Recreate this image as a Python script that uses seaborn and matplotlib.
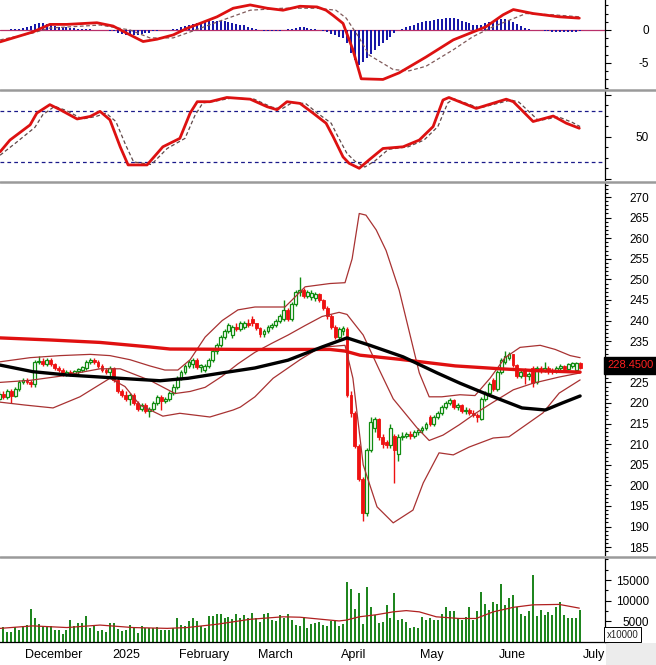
import numpy as np
import matplotlib
matplotlib.use("Agg")
import matplotlib.pyplot as plt
import matplotlib.transforms as mtransforms
from matplotlib.lines import Line2D
from matplotlib.patches import Rectangle
from matplotlib.ticker import MultipleLocator, FixedLocator, FuncFormatter
import seaborn as sns

sns.set_style("white")
plt.rcParams['font.family'] = ['Liberation Sans', 'DejaVu Sans']
plt.rcParams['axes.unicode_minus'] = False

# ==============================
# DAILY PRICE DATA (trading days, late Nov 2024 .. end of June 2025)
# ==============================
open_px = [
    221.0, 222.3, 221.5, 223.0, 221.8, 223.5, 225.0, 225.5, 225.0, 224.5,
    230.0, 230.3, 229.5, 230.5, 229.5, 228.5, 228.0, 227.0, 227.5, 227.0,
    227.8, 228.0, 228.5, 230.0, 230.5, 230.0, 229.0, 228.0, 227.5, 228.5,
    225.5, 223.0, 222.0, 221.0, 222.0, 220.0, 218.5, 219.5, 218.0, 218.5,
    220.0, 221.5, 220.5, 221.0, 222.5, 224.0, 226.0, 227.5, 229.0, 229.5,
    230.5, 228.8, 228.0, 229.0, 230.5, 232.5, 234.0, 236.0, 237.5, 236.5,
    238.5, 238.0, 238.5, 239.5, 240.3, 239.3, 238.3, 236.8, 237.5, 238.5,
    239.0, 240.0, 240.5, 242.5, 240.5, 244.0, 247.0, 247.5, 246.0, 245.8,
    245.5, 246.5, 245.0, 243.0, 241.0, 238.5, 236.0, 237.5, 238.0, 222.0,
    217.5, 209.5, 201.5, 193.3, 208.5, 214.0, 216.0, 211.8, 210.5, 209.8,
    212.0, 207.5, 211.8, 212.0, 212.5, 212.0, 213.0, 213.5, 214.0, 216.5,
    215.0, 216.5, 217.5, 219.0, 220.0, 220.8, 219.0, 219.5, 218.0, 218.3,
    217.5, 217.0, 216.2, 221.0, 222.5, 225.5, 223.5, 227.5, 230.0, 231.0,
    231.8, 229.2, 226.5, 228.0, 226.5, 228.5, 225.0, 228.5, 228.0, 228.5,
    228.0, 227.8, 228.5, 229.0, 228.3, 229.0, 228.0, 229.7,
]
high_px = [
    223.0, 223.0, 223.5, 223.5, 224.0, 225.5, 226.0, 226.0, 225.5, 230.5,
    231.5, 230.8, 231.0, 230.8, 229.8, 229.0, 228.5, 228.0, 228.0, 228.0,
    228.5, 229.0, 230.5, 231.0, 231.0, 230.5, 229.5, 228.5, 229.0, 228.8,
    226.0, 223.5, 223.0, 222.5, 222.5, 220.5, 220.0, 220.0, 219.0, 220.5,
    222.0, 222.0, 221.5, 223.0, 224.5, 226.5, 228.0, 229.5, 230.5, 231.0,
    230.8, 229.5, 229.5, 231.0, 233.0, 234.5, 236.5, 238.0, 239.5, 239.0,
    239.5, 239.8, 240.0, 240.5, 241.0, 239.5, 238.5, 238.0, 239.0, 239.5,
    240.5, 241.5, 245.0, 243.0, 244.5, 247.5, 250.5, 248.0, 247.5, 247.5,
    247.0, 246.8, 245.3, 243.5, 241.5, 239.0, 238.5, 238.8, 238.5, 223.0,
    218.0, 210.0, 202.0, 209.0, 216.5, 216.5, 216.3, 212.5, 211.0, 215.0,
    212.5, 212.5, 213.0, 213.0, 213.2, 213.5, 214.0, 214.5, 215.5, 217.0,
    217.0, 218.0, 219.5, 220.5, 221.3, 221.0, 220.0, 219.8, 219.0, 218.8,
    218.3, 217.5, 221.5, 223.0, 225.0, 226.0, 228.0, 231.0, 232.5, 232.3,
    232.0, 229.5, 228.0, 228.5, 227.5, 229.0, 229.0, 229.0, 230.0, 229.0,
    228.5, 229.0, 229.5, 229.3, 229.8, 230.0, 229.9, 230.0,
]
low_px = [
    220.5, 221.0, 221.0, 220.0, 221.5, 223.0, 224.5, 224.5, 224.0, 224.0,
    229.5, 229.0, 229.0, 229.0, 228.0, 227.5, 226.5, 226.5, 226.5, 226.5,
    227.0, 227.5, 228.0, 229.5, 229.5, 228.5, 227.5, 227.0, 226.5, 225.0,
    222.5, 221.5, 220.5, 219.5, 219.5, 218.0, 218.0, 217.5, 216.5, 218.0,
    219.5, 218.3, 220.0, 220.5, 222.0, 223.5, 225.5, 227.0, 228.5, 228.5,
    228.3, 227.5, 227.5, 228.5, 230.0, 232.0, 233.5, 235.5, 237.0, 235.8,
    237.5, 237.5, 238.0, 238.5, 238.8, 237.8, 236.0, 236.0, 237.0, 238.0,
    238.5, 239.5, 240.0, 239.8, 240.0, 243.5, 246.0, 245.5, 245.5, 245.0,
    244.8, 244.5, 242.5, 240.5, 238.0, 235.5, 235.3, 236.5, 221.5, 216.5,
    209.0, 201.0, 191.3, 192.5, 208.0, 213.0, 211.0, 209.0, 209.0, 209.0,
    200.6, 206.0, 211.0, 211.5, 211.3, 211.5, 212.3, 212.8, 213.5, 214.5,
    214.5, 216.0, 217.0, 218.5, 219.5, 218.5, 218.3, 217.5, 217.3, 217.0,
    216.5, 215.5, 215.8, 220.5, 222.0, 223.0, 223.0, 227.0, 229.5, 230.5,
    228.8, 226.0, 226.0, 224.5, 225.5, 223.8, 224.5, 227.3, 227.5, 227.0,
    227.0, 227.3, 227.8, 227.8, 228.0, 228.5, 227.8, 228.2,
]
close_px = [
    222.3, 221.5, 223.0, 221.8, 223.5, 225.0, 225.5, 225.0, 224.5, 230.0,
    230.3, 229.5, 230.5, 229.5, 228.5, 228.0, 227.0, 227.5, 227.0, 227.8,
    228.3, 228.8, 230.0, 230.5, 230.0, 229.0, 228.0, 227.5, 228.5, 225.5,
    223.0, 222.0, 221.0, 222.0, 220.0, 218.5, 219.5, 218.0, 218.5, 220.0,
    221.5, 220.5, 221.0, 222.5, 224.0, 226.0, 227.5, 229.0, 230.0, 230.5,
    228.8, 229.3, 229.0, 230.5, 232.5, 234.0, 236.0, 237.5, 239.0, 238.5,
    238.0, 239.3, 239.5, 239.0, 239.3, 238.3, 236.8, 237.5, 238.5, 239.0,
    240.0, 241.0, 242.5, 240.5, 244.0, 247.0, 247.5, 246.0, 247.0, 246.8,
    246.5, 245.0, 243.0, 241.0, 238.5, 236.0, 238.0, 238.2, 222.0, 217.5,
    209.5, 201.5, 193.3, 208.5, 215.5, 216.0, 211.8, 210.0, 209.8, 214.0,
    208.5, 211.8, 212.0, 212.5, 212.0, 213.0, 213.5, 214.0, 215.0, 215.0,
    216.5, 217.5, 219.0, 220.0, 220.8, 219.0, 219.5, 218.0, 218.3, 217.5,
    217.0, 216.5, 221.0, 222.5, 224.5, 223.5, 227.5, 230.5, 231.5, 231.8,
    229.2, 226.5, 227.5, 226.5, 227.0, 224.8, 228.5, 228.0, 228.5, 228.0,
    227.8, 228.5, 229.0, 228.3, 229.5, 229.7, 229.7, 228.45,
]
volume = [
    2900, 3700, 2500, 2500, 3700, 2900, 3900, 4100, 7900, 5700,
    4300, 3900, 3900, 3900, 3000, 2900, 1900, 3000, 5300, 3900,
    4600, 4600, 6200, 3500, 3900, 2600, 2900, 2500, 4600, 4600,
    3200, 2600, 2900, 4100, 3500, 2200, 3900, 3500, 3500, 3500,
    3700, 3000, 3000, 3000, 3500, 5700, 4100, 3900, 5100, 5700,
    5100, 3900, 3500, 6200, 6200, 6800, 6800, 5700, 6100, 5500,
    6800, 5700, 6500, 5700, 7000, 5700, 4800, 6700, 7000, 5300,
    5100, 6500, 5700, 6700, 5300, 4100, 3900, 6100, 3500, 4300,
    4600, 4800, 4100, 3900, 5100, 5100, 3900, 4300, 14600, 12800,
    7900, 11800, 4400, 13400, 8400, 6500, 4600, 4800, 9000, 5700,
    11900, 5300, 5500, 4800, 3500, 3700, 3500, 6100, 5300, 5700,
    5300, 5300, 6800, 8400, 7600, 7600, 5700, 5300, 6100, 8400,
    5300, 7600, 12200, 9100, 7700, 9800, 9300, 14000, 9000, 10600,
    11400, 8400, 6800, 6200, 7600, 16200, 6200, 7700, 6500, 7300,
    6500, 8400, 9800, 6500, 5700, 5900, 5900, 7700,
]
macd_hist = [
    0.0, 0.0, 0.05, 0.1, 0.15, 0.2,
    0.3, 0.4, 0.6, 0.9, 1.0, 1.0, 0.9, 0.8, 0.6, 0.5, 0.4, 0.4, 0.3, 0.3, 0.2, 0.2, 0.15, 0.1, 0.05,
    0.0, 0.0, -0.05, -0.1,
    -0.2, -0.4, -0.6, -0.7, -0.75, -0.75, -0.7, -0.6, -0.5, -0.4, -0.2, -0.1,
    0.0, 0.0, 0.05, 0.1, 0.2,
    0.4, 0.6, 0.8, 0.9, 1.0, 1.1, 1.2, 1.3, 1.4, 1.4, 1.4, 1.3, 1.2, 1.0, 0.9, 0.8, 0.7, 0.5, 0.3, 0.2,
    0.0, -0.1, -0.2, -0.2, -0.15, -0.1, 0.0, 0.1, 0.2,
    0.3, 0.4, 0.4, 0.3, 0.2, 0.1,
    0.0, -0.1,
    -0.3, -0.6, -0.8, -1.0, -1.2, -2.0, -3.5, -4.5, -5.3, -4.8, -4.3, -3.6, -3.0, -2.5, -2.0, -1.5, -1.0, -0.5,
    0.0,
    0.2, 0.4, 0.6, 0.8, 1.0, 1.2, 1.3, 1.4, 1.5, 1.6, 1.7, 1.75, 1.8, 1.75, 1.6, 1.4, 1.2, 1.0, 0.8, 0.7,
    0.8, 1.0, 1.2, 1.4, 1.5, 1.6, 1.6, 1.5, 1.2, 0.9, 0.6, 0.35, 0.15,
    0.05, 0.0, 0.0,
    -0.1, -0.2, -0.25, -0.3, -0.3, -0.3, -0.3, -0.3, -0.25, -0.2,
]

# ==============================
# INDICATOR LINES (day index, value)
# ==============================
ma_long_day = [0.2, 12.8, 25.5, 38.1, 43.2, 63.5, 83.7, 87.5, 91.3, 101.4, 115.4, 126.8, 136.9, 147.0]
ma_long_val = [235.8, 235.3, 234.7, 233.6, 233.1, 233.0, 233.0, 232.6, 231.6, 230.6, 229.0, 228.3, 227.8, 227.5]

ma_mid_day = [0.2, 8.5, 17.1, 25.5, 33.8, 40.7, 47.8, 56.4, 64.7, 73.1, 81.7, 88.0, 93.8, 102.2,
              110.8, 116.6, 123.7, 132.3, 138.2, 142.5, 147.0]
ma_mid_val = [229.2, 227.6, 226.8, 226.3, 225.8, 225.4, 226.0, 227.3, 228.5, 230.4, 233.6, 235.8, 234.0, 231.2,
              227.3, 224.8, 222.0, 218.8, 218.3, 220.0, 221.7]

bb_up_day = [0.2, 7.8, 15.4, 23.0, 28.0, 33.1, 38.1, 41.9, 45.2, 48.3, 52.1, 56.4, 60.4, 64.7, 72.3,
             74.1, 77.4, 83.7, 87.5, 89.3, 91.1, 92.8, 95.4, 97.9, 101.2, 104.7, 106.3, 108.8, 112.0,
             116.6, 120.4, 124.2, 128.0, 131.8, 136.9, 140.7, 144.5, 147.0]
bb_up_val = [230.0, 231.0, 231.5, 231.8, 231.5, 230.5, 229.0, 228.0, 228.0, 230.5, 236.0, 240.0, 242.6, 243.3, 243.3,
             245.0, 248.2, 249.0, 249.2, 255.0, 266.0, 265.6, 262.0, 257.0, 247.4, 233.6, 227.3, 221.5, 221.5,
             222.0, 221.8, 226.0, 231.0, 233.5, 234.0, 233.0, 231.5, 231.0]

bb_mid_day = [0.2, 7.8, 15.4, 25.5, 30.6, 38.1, 44.5, 48.3, 52.1, 56.4, 60.4, 64.7, 69.0, 73.1, 77.4,
              81.7, 86.0, 88.0, 92.1, 96.1, 99.7, 105.7, 108.8, 112.3, 116.4, 120.7, 125.0, 130.1,
              135.1, 141.7, 147.0]
bb_mid_val = [225.0, 225.5, 226.5, 228.3, 228.3, 225.5, 222.3, 222.8, 223.8, 226.5, 229.5, 232.3, 234.5, 236.5, 238.8,
              241.0, 242.0, 241.5, 236.5, 228.2, 221.0, 214.0, 210.9, 212.2, 214.7, 217.6, 220.2, 223.2,
              224.8, 226.3, 227.3]

bb_lo_day = [0.2, 6.5, 13.6, 20.4, 28.0, 31.8, 35.6, 41.4, 45.7, 53.3, 59.2, 61.0, 64.7, 69.3, 76.1,
             81.2, 87.5, 89.5, 92.1, 95.6, 99.7, 104.7, 107.3, 111.3, 114.9, 118.9, 125.0, 129.0,
             137.6, 141.7, 147.0]
bb_lo_val = [220.2, 219.5, 218.8, 221.5, 226.0, 224.0, 219.5, 216.8, 217.5, 216.6, 218.3, 219.0, 221.5, 226.0, 230.5,
             233.5, 234.0, 226.0, 205.0, 194.8, 190.9, 194.0, 200.6, 207.9, 207.4, 209.3, 211.5, 211.8,
             217.6, 222.4, 225.6]

macd_day = [0.2, 8.5, 12.8, 17.1, 24.7, 28.8, 32.3, 36.4, 39.9, 44.0, 47.5, 50.8, 55.1, 59.2, 63.5, 67.8,
            71.8, 76.1, 80.4, 82.7, 84.5, 87.0, 89.5, 91.6, 97.1, 101.2, 108.0, 114.9, 119.9, 123.2,
            127.5, 130.1, 135.1, 141.7, 146.8]
macd_val = [-1.8, -0.3, 0.85, 0.85, 1.1, 0.6, -0.5, -1.75, -1.4, -0.75, 0.25, 1.0, 2.0, 3.3, 3.8, 3.3,
            3.0, 3.6, 3.5, 3.0, 2.2, 1.0, -3.0, -7.4, -7.5, -6.5, -4.1, -1.5, -0.3, 0.5,
            2.3, 3.1, 2.5, 2.0, 1.8]
signal_day = [0.2, 8.5, 12.8, 25.5, 33.1, 38.1, 44.0, 48.3, 55.1, 63.5, 71.8, 80.4, 85.2, 87.8, 91.1,
              93.6, 99.7, 103.7, 108.0, 114.9, 119.9, 125.0, 133.3, 140.2, 146.8]
signal_val = [-1.5, -0.45, 0.3, 0.75, 0.0, -1.2, -1.2, -0.3, 1.2, 3.0, 3.3, 3.3, 3.0, 1.8, -1.2,
              -3.8, -6.0, -6.2, -5.5, -3.0, -1.0, 0.5, 2.5, 2.3, 2.0]

stoch_k_day = [0.2, 2.7, 7.8, 9.5, 12.8, 15.4, 19.7, 23.0, 25.5, 28.0, 30.6, 32.6, 37.4, 41.4, 45.7,
               48.3, 50.1, 53.3, 57.6, 63.5, 67.8, 70.3, 72.8, 76.1, 79.4, 82.7, 84.5, 87.0, 88.5,
               91.1, 93.6, 97.1, 102.2, 106.3, 109.8, 112.3, 113.8, 120.7, 128.3, 130.1, 135.1,
               140.2, 143.5, 146.8]
stoch_k_val = [32, 46, 64, 78, 88, 82, 71, 74, 80, 70, 38, 16.5, 16.5, 38, 48,
               78, 91.5, 91.5, 96.5, 94.5, 85.5, 82, 91.5, 89.5, 78, 66, 50, 26, 18.5,
               12.5, 22.5, 36, 38, 46, 62, 93.5, 96.5, 83.5, 94.5, 91.5, 68,
               74.5, 66, 60]
stoch_d_day = [0.2, 4.0, 9.0, 11.0, 14.0, 17.0, 21.0, 24.5, 27.0, 29.5, 32.0, 34.0, 38.5, 42.5, 47.0,
               49.5, 51.5, 54.5, 59.0, 64.5, 69.0, 71.5, 74.0, 77.5, 80.5, 84.0, 85.5, 88.0, 90.0,
               92.5, 95.0, 98.5, 103.5, 107.5, 111.0, 113.5, 115.0, 121.5, 129.5, 131.5, 136.5,
               141.5, 145.0, 147.0]
stoch_d_val = [28, 42, 61, 76, 86, 81, 71, 74, 78, 68, 40, 20, 17, 36, 48,
               75, 90, 92, 96, 94.5, 85, 83, 90, 89.5, 78, 66, 52, 30, 21,
               14, 21, 35, 38, 46, 62, 90, 95, 84, 93.5, 91, 69,
               73.5, 67, 62]

vol_ma_day = [0.2, 8.5, 17.1, 25.5, 33.8, 42.5, 47.5, 55.1, 63.5, 71.8, 76.1, 83.7, 86.0, 87.8,
              91.1, 95.4, 99.7, 103.0, 106.3, 110.6, 116.4, 120.7, 125.0, 130.1, 135.1, 141.7, 146.8]
vol_ma_val = [3300, 3900, 3500, 4100, 3500, 3300, 3500, 4300, 5500, 6100, 6000, 5300, 5100, 5300,
              6100, 6600, 7300, 7600, 7300, 6100, 5700, 5700, 7300, 8400, 9000, 9100, 8200]

month_names = ["December", "2025", "February", "March", "April", "May", "June", "July"]
month_start_day = [6, 28, 45, 65, 86, 106, 126, 147.3]
week_tick_day = [1, 11, 16, 21, 26, 33, 40, 50, 55, 60, 70, 75, 80, 90, 95, 100,
                 111, 116, 121, 131, 136, 141, 146]

# ==============================
# FIGURE LAYOUT
# ==============================
GREEN = "#118c11"
RED = "#ee1111"
BAND = "#a83232"

W, H = 656, 665
fig = plt.figure(figsize=(W / 100, H / 100), dpi=100)


def panel(top, bottom):
    return fig.add_axes([0, 1 - bottom / H, 605 / W, (bottom - top) / H])


ax_macd = panel(0, 88)
ax_stoch = panel(91, 180)
ax_price = panel(183, 555)
ax_vol = panel(558, 642)
axes = [ax_macd, ax_stoch, ax_price, ax_vol]

days = np.arange(len(close_px))
o = np.array(open_px)
h = np.array(high_px)
l = np.array(low_px)
c = np.array(close_px)
up = c >= o

# ---- price panel: candles, bands, moving averages
ax_price.vlines(days, l, h, colors=np.where(up, GREEN, RED), lw=1.0, zorder=2)
body_lo = np.minimum(o, c)
body_h = np.maximum(np.abs(c - o), 0.25)
ax_price.bar(days[up], body_h[up], bottom=body_lo[up], width=0.72,
             facecolor="white", edgecolor=GREEN, lw=0.9, zorder=3)
ax_price.bar(days[~up], body_h[~up], bottom=body_lo[~up], width=0.72,
             facecolor=RED, edgecolor=RED, lw=0.6, zorder=3)

for d, v in [(bb_up_day, bb_up_val), (bb_mid_day, bb_mid_val), (bb_lo_day, bb_lo_val)]:
    sns.lineplot(x=d, y=v, ax=ax_price, color=BAND, lw=0.9, sort=False, estimator=None, zorder=4)
sns.lineplot(x=ma_long_day, y=ma_long_val, ax=ax_price, color="#e01010", lw=2.4,
             sort=False, estimator=None, zorder=5)
sns.lineplot(x=ma_mid_day, y=ma_mid_val, ax=ax_price, color="black", lw=2.4,
             sort=False, estimator=None, zorder=5)
ax_price.set_ylim(183.1, 273.4)

# ---- MACD panel
ax_macd.axhline(0, color="#b8306a", lw=0.9, zorder=1)
ax_macd.vlines(days, 0, macd_hist, colors="#1818a8", lw=1.44, antialiased=False, zorder=2)
sns.lineplot(x=signal_day, y=signal_val, ax=ax_macd, color="#805a5a", lw=0.9,
             linestyle=(0, (3, 2)), sort=False, estimator=None, zorder=3)
sns.lineplot(x=macd_day, y=macd_val, ax=ax_macd, color="#dd1111", lw=2.0,
             sort=False, estimator=None, zorder=4)
ax_macd.set_ylim(-8.8, 4.55)

# ---- Stochastic panel
for lvl in (80, 20):
    ax_stoch.axhline(lvl, color="#1a1a8a", lw=0.9, ls=(0, (3, 2.5)), zorder=1)
sns.lineplot(x=stoch_d_day, y=stoch_d_val, ax=ax_stoch, color="#604848", lw=0.9,
             linestyle=(0, (3, 2)), sort=False, estimator=None, zorder=2)
sns.lineplot(x=stoch_k_day, y=stoch_k_val, ax=ax_stoch, color="#dd1111", lw=2.0,
             sort=False, estimator=None, zorder=3)
ax_stoch.set_ylim(-1.4, 104.2)

# ---- Volume panel
ax_vol.vlines(days, 0, volume, colors="#1f861f", lw=1.44, antialiased=False, zorder=2)
sns.lineplot(x=vol_ma_day, y=vol_ma_val, ax=ax_vol, color="#b02020", lw=0.9,
             sort=False, estimator=None, zorder=3)
ax_vol.set_ylim(0, 20340)

# ==============================
# AXES STYLING
# ==============================
last_close = close_px[-1]
ax_price.yaxis.set_major_locator(MultipleLocator(5))
ax_price.yaxis.set_minor_locator(MultipleLocator(1))
# the price tag hides the scale label right under it
ax_price.yaxis.set_major_formatter(FuncFormatter(
    lambda v, pos: "" if abs(v - last_close) < 2.5 else f"{v:.0f}"))
ax_macd.yaxis.set_major_locator(FixedLocator([-5, 0]))
ax_macd.yaxis.set_minor_locator(MultipleLocator(1.25))
ax_stoch.set_yticks([0, 50, 100], ["", "50", ""])
ax_stoch.yaxis.set_minor_locator(MultipleLocator(12.5))
ax_vol.yaxis.set_major_locator(FixedLocator([5000, 10000, 15000]))
ax_vol.yaxis.set_minor_locator(MultipleLocator(2500))

for ax in axes:
    ax.set_xlim(0.18, 153.3)
    ax.set_xlabel("")
    ax.set_ylabel("")
    ax.set_facecolor("white")
    ax.yaxis.tick_right()
    ax.tick_params(axis="y", which="major", direction="out", length=4.5, width=0.8,
                   pad=27.0, labelsize=8.5, colors="black")
    ax.tick_params(axis="y", which="minor", direction="out", length=2.5, width=0.8, colors="black")
    plt.setp(ax.get_yticklabels(), ha="right")
    for side in ["top", "left", "bottom"]:
        ax.spines[side].set_visible(False)
    ax.spines["right"].set_color("black")
    ax.spines["right"].set_linewidth(0.9)
    if ax is not ax_vol:
        ax.set_xticks([])

ax_vol.spines["bottom"].set_visible(True)
ax_vol.spines["bottom"].set_color("black")
ax_vol.spines["bottom"].set_linewidth(0.9)
ax_vol.set_xticks(month_start_day)
ax_vol.set_xticklabels([])
ax_vol.set_xticks(week_tick_day, minor=True)
ax_vol.tick_params(axis="x", which="major", direction="out", length=13, width=0.9, colors="black")
ax_vol.tick_params(axis="x", which="minor", direction="out", length=3, width=0.8, colors="black")
lbl_tr = mtransforms.blended_transform_factory(ax_vol.transData, ax_vol.transAxes)
for d, name in zip(month_start_day, month_names):
    ax_vol.text(d + 0.5, -0.16, name, transform=lbl_tr, ha="left", va="center",
                fontsize=9, color="black", clip_on=False)

# last price tag
tag_tr = mtransforms.blended_transform_factory(ax_price.transAxes, ax_price.transData) + \
    mtransforms.ScaledTranslation(0, 2 / 72, fig.dpi_scale_trans)
ax_price.text(1.004, last_close, f"{last_close:.4f}", transform=tag_tr, ha="left", va="center",
              fontsize=8.0, color="#ff2020", clip_on=False, zorder=10,
              bbox=dict(facecolor="black", edgecolor="black", boxstyle="square,pad=0.35"))

# panel separators and corner furniture
for y_px in (89.5, 181.5, 556.5):
    fig.add_artist(Line2D([0, 1], [1 - y_px / H] * 2, transform=fig.transFigure,
                          color="#9a9a9a", lw=1.8))
fig.add_artist(Rectangle((606 / W, 0), 50 / W, 22 / H, transform=fig.transFigure,
                         facecolor="#ececec", edgecolor="none", zorder=0))
fig.text(606.5 / W, 1 - 634.5 / H, "x10000", fontsize=7, ha="left", va="center",
         bbox=dict(facecolor="white", edgecolor="black", lw=0.7, boxstyle="square,pad=0.25"))

fig.savefig("out.png", dpi=100)
